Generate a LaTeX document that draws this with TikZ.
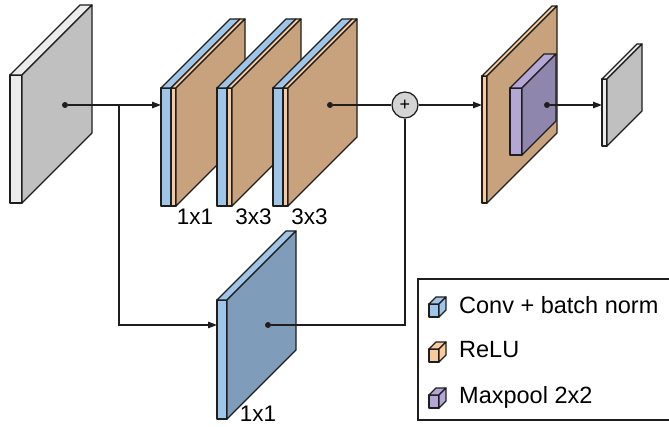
\documentclass[tikz,border=0pt]{standalone}
\usepackage{fontspec}
\setmainfont{Liberation Sans}
\usetikzlibrary{arrows.meta}

\definecolor{edgecol}{HTML}{1E1E1E}
\definecolor{slabpale}{HTML}{ECECEC}
\definecolor{slabgray}{HTML}{C0C0C0}
\definecolor{convblue}{HTML}{9FC5E8}
\definecolor{skipblue}{HTML}{7F9DBA}
\definecolor{reluorange}{HTML}{F9CB9C}
\definecolor{featbrown}{HTML}{C8A27C}
\definecolor{poollight}{HTML}{B4A7D6}
\definecolor{pooldark}{HTML}{8E86AD}
\definecolor{addgray}{HTML}{D4D4D4}

% front strip of a layer: x, width, top y, height, depth, colour
\newcommand{\layerstrip}[6]{%
  \filldraw[fill=#6,facet] (#1,#3) rectangle ++(#2,#4);
  \filldraw[fill=#6,facet] (#1,#3) -- ++(#5,-#5) -- ++(#2,0) -- ++(-#5,#5) -- cycle;}
% large receding side face: x, top y, height, depth, colour
\newcommand{\layerside}[5]{%
  \filldraw[fill=#5,facet] (#1,#2) -- ++(#4,-#4) -- ++(0,#3) -- ++(-#4,#4) -- cycle;}

\begin{document}
\begin{tikzpicture}[x=1pt,y=-1pt,
  facet/.style={draw=edgecol,line width=1.25pt,line join=round},
  conn/.style={draw=edgecol,line width=1.25pt},
  tip/.tip={Triangle[length=9pt,width=6.5pt]},
  dot/.style={circle,fill=edgecol,inner sep=0pt,minimum size=6pt},
  addnode/.style={circle,draw=edgecol,line width=1.25pt,fill=addgray,minimum size=26pt,inner sep=0pt,font=\fontsize{18}{18}\selectfont},
  dimlabel/.style={font=\fontsize{22.5}{26}\selectfont,inner sep=0pt},
  legtext/.style={font=\fontsize{23.5}{28}\selectfont,anchor=west,inner sep=0pt}]
\useasboundingbox (0,0) rectangle (669,427);

% input feature map
\layerstrip{10}{12}{75}{128}{70}{slabpale}
\layerside{22}{75}{128}{70}{slabgray}

% residual branch: 1x1, 3x3, 3x3 conv + ReLU
\layerstrip{161}{10}{88}{118}{69}{convblue}
\layerstrip{171}{5}{88}{118}{69}{reluorange}
\layerside{176}{88}{118}{69}{featbrown}
\layerstrip{217}{10}{88}{118}{69}{convblue}
\layerstrip{227}{5}{88}{118}{69}{reluorange}
\layerside{232}{88}{118}{69}{featbrown}
\layerstrip{273}{10}{88}{118}{69}{convblue}
\layerstrip{283}{5}{88}{118}{69}{reluorange}
\layerside{288}{88}{118}{69}{featbrown}

% shortcut 1x1 conv
\layerstrip{217}{10}{300}{119}{69}{convblue}
\layerside{227}{300}{119}{69}{skipblue}

% ReLU after the sum, then max pooling
\layerstrip{482}{5}{76}{127}{70}{reluorange}
\layerside{487}{76}{127}{70}{featbrown}
\layerstrip{510}{12}{88}{67}{34}{poollight}
\layerside{522}{88}{67}{34}{pooldark}

% output feature map
\layerstrip{602}{5}{79}{67}{35}{slabpale}
\layerside{607}{79}{67}{35}{slabgray}

% kernel size labels
\node[dimlabel] (k1) at (195,217) {1x1};
\node[dimlabel] (k2) at (253.5,217) {3x3};
\node[dimlabel] (k3) at (309.5,217) {3x3};
\node[dimlabel] (k4) at (258,414) {1x1};

% data flow
\node[dot] (din) at (65,105) {};
\coordinate (split) at (119,105);
\coordinate (convin) at (161,105);
\coordinate (skipin) at (217,325);
\node[dot] (dres) at (330,105) {};
\node[dot] (dskip) at (268,325) {};
\node[addnode] (add) at (405,105) {+};
\coordinate (reluin) at (482,105);
\node[dot] (dpool) at (547,105) {};
\coordinate (outin) at (602,105);

\draw[conn,-tip] (din) -- (convin);
\draw[conn,-tip] (split) |- (skipin);
\draw[conn] (dres) -- (add);
\draw[conn] (dskip) -| (add);
\draw[conn,-tip] (add) -- (reluin);
\draw[conn,-tip] (dpool) -- (outin);

% legend
\draw[draw=edgecol,line width=1.2pt] (669,279) -- (418,279) -- (418,420) -- (669,420);
\layerstrip{429}{10}{304}{13}{7}{convblue}
\layerside{439}{304}{13}{7}{convblue}
\layerstrip{429}{10}{349}{13}{7}{reluorange}
\layerside{439}{349}{13}{7}{reluorange}
\layerstrip{429}{10}{395}{13}{7}{poollight}
\layerside{439}{395}{13}{7}{poollight}
\node[legtext] (l1) at (459,305) {Conv + batch norm};
\node[legtext] (l2) at (459,350) {ReLU};
\node[legtext] (l3) at (459,397) {Maxpool 2x2};
\end{tikzpicture}
\end{document}
